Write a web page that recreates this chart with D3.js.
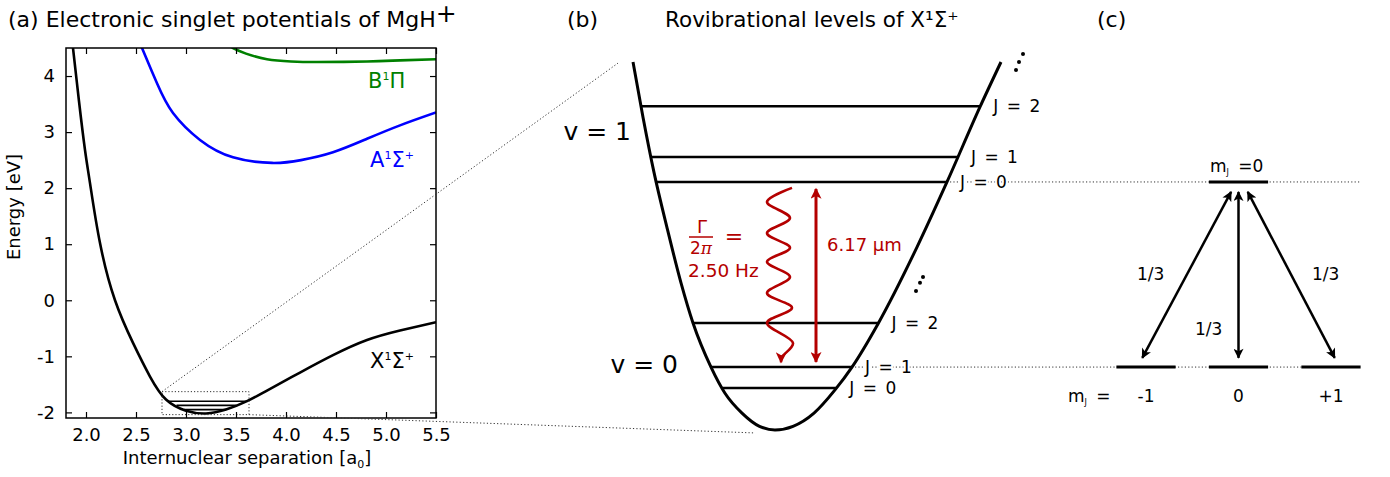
<!DOCTYPE html>
<html>
<head>
<meta charset="utf-8">
<script src="https://cdn.jsdelivr.net/npm/d3@7"></script>
<style>
body { margin: 0; background: #fff; }
svg { font-family: "DejaVu Sans", Verdana, sans-serif; }
</style>
</head>
<body>
<svg width="1390" height="477"></svg>
<script>
// ---- panel (a): potential curves, r in a0, E in eV
var xStateR = [1.80, 1.87, 1.93, 1.99, 2.04, 2.14, 2.29, 2.47, 2.64, 2.80, 3.00, 3.20, 3.40, 3.61, 3.81, 4.14, 4.47, 4.81, 5.14, 5.50];
var xStateE = [5.55, 4.50, 3.55, 2.68, 2.09, 1.02, 0.00, -0.76, -1.36, -1.77, -1.97, -2.02, -1.95, -1.80, -1.61, -1.29, -0.98, -0.71, -0.54, -0.39];
var aStateR = [2.50, 2.56, 2.71, 2.87, 3.14, 3.47, 3.86, 4.15, 4.47, 4.81, 5.14, 5.50];
var aStateE = [4.75, 4.50, 3.87, 3.34, 2.86, 2.55, 2.45, 2.50, 2.64, 2.88, 3.12, 3.35];
var bStateR = [3.35, 3.47, 3.60, 3.81, 4.05, 4.31, 4.81, 5.14, 5.50];
var bStateE = [4.62, 4.50, 4.40, 4.30, 4.26, 4.25, 4.26, 4.28, 4.30];
var xLevels = [-1.80, -1.875, -1.95];
var xTicks = [2.0, 2.5, 3.0, 3.5, 4.0, 4.5, 5.0, 5.5];
var yTicks = [-2, -1, 0, 1, 2, 3, 4];
var zoomR = [2.76, 3.63];
var zoomE = [-2.04, -1.63];

// ---- panel (b): well in arbitrary units, energy in % of shown depth
var wellX = [-1.42, -1.32, -1.21, -1.08, -0.94, -0.82, -0.64, -0.50, -0.33, -0.155, 0, 0.18, 0.39, 0.60, 0.77, 1.035, 1.42, 1.72, 2.05, 2.26];
var wellE = [100, 85, 70, 55, 40, 29.1, 17.1, 10, 4.6, 1, 0, 1, 4.6, 10.9, 17.1, 29.1, 49.7, 67.4, 87.8, 100];
var v0Levels = [11.4, 17.1, 29.1];
var v1Levels = [67.4, 74.2, 88.0];
var jNames = ["J = 0", "J = 1", "J = 2"];
var waveX = [0.17, -0.08, 0.15, -0.08, 0.15, -0.08, 0.15, -0.08, 0.17, -0.08, 0.18, 0.07, 0.06];
var waveE = [65.8, 62.0, 57.6, 53.5, 49.5, 45.7, 41.6, 37.2, 33.2, 29.1, 23.6, 19.8, 18.4];
var laserX = 0.41;
var laserE = [65.5, 18.5];
var dotsHigh = [[2.48, 102.2], [2.44, 100], [2.41, 97.8]];
var dotsLow = [[1.48, 41.6], [1.45, 40], [1.41, 37.8]];
var zoomTop = [-1.57, 99.7];
var zoomBottom = [-0.2, -0.8];

// ---- panel (c): m_J sublevels
var mjValues = [-1, 0, 1];
var mjNames = ["-1", "0", "+1"];
var mjTop = [-0.08, 0, 0.1];
var mjBot = [-1.04, 0, 1.04];
var ratios = ["1/3", "1/3", "1/3"];

var red = "#b40000";
var svg = d3.select("svg");
svg.append("rect").attr("width", 1390).attr("height", 477).attr("fill", "#fff");
var defs = svg.append("defs");
defs.append("clipPath").attr("id", "clipA").append("rect")
    .attr("x", 66).attr("y", 48).attr("width", 370).attr("height", 370);
function head(id, color, w, h) {
    defs.append("marker").attr("id", id)
        .attr("viewBox", "0 0 10 10").attr("refX", 9).attr("refY", 5)
        .attr("markerWidth", w).attr("markerHeight", h)
        .attr("markerUnits", "userSpaceOnUse").attr("orient", "auto-start-reverse")
        .append("path").attr("d", "M0,0L10,5L0,10L2.5,5z").attr("fill", color);
}
head("redHead", red, 12, 11);
head("blackHead", "#000", 11, 10);

function zip(a, b) { return a.map(function (v, i) { return [v, b[i]]; }); }
// crossing of a U shaped curve with a level, side -1 = left branch, 1 = right
function crossAt(pts, e, side) {
    var iMin = d3.minIndex(pts, function (d) { return d[1]; });
    var br = side < 0 ? pts.slice(0, iMin + 1) : pts.slice(iMin);
    for (var i = 0; i < br.length - 1; i++) {
        var a = br[i], b = br[i + 1];
        if ((a[1] - e) * (b[1] - e) <= 0) {
            var t = (e - a[1]) / (b[1] - a[1]);
            return a[0] + t * (b[0] - a[0]);
        }
    }
}

// =============== panel (a)
var x = d3.scaleLinear().domain([1.8, 5.5]).range([66, 436]);
var y = d3.scaleLinear().domain([-2.1, 4.5]).range([418, 48]);

var ta = svg.append("text").attr("x", 8).attr("y", 27).attr("font-size", 22);
ta.append("tspan").text("(a)  Electronic singlet potentials of MgH");
ta.append("tspan").attr("font-size", 25).attr("dy", -5).text("+");

var ga = svg.append("g");
var lineA = d3.line().x(function (d) { return x(d[0]); }).y(function (d) { return y(d[1]); })
    .curve(d3.curveNatural);
var pots = [[zip(xStateR, xStateE), "#000"], [zip(aStateR, aStateE), "#0000ff"], [zip(bStateR, bStateE), "#008000"]];
var curves = ga.append("g").attr("clip-path", "url(#clipA)");
curves.selectAll("path").data(pots).enter().append("path")
    .attr("d", function (d) { return lineA(d[0]); })
    .attr("fill", "none").attr("stroke", function (d) { return d[1]; }).attr("stroke-width", 2.6);

var xPts = zip(xStateR, xStateE);
ga.selectAll(".lev").data(xLevels).enter().append("line")
    .attr("x1", function (d) { return x(crossAt(xPts, d, -1)); })
    .attr("x2", function (d) { return x(crossAt(xPts, d, 1)); })
    .attr("y1", function (d) { return y(d); }).attr("y2", function (d) { return y(d); })
    .attr("stroke", "#000").attr("stroke-width", 1.6);

ga.append("rect").attr("x", x(zoomR[0])).attr("y", y(zoomE[1]))
    .attr("width", x(zoomR[1]) - x(zoomR[0])).attr("height", y(zoomE[0]) - y(zoomE[1]))
    .attr("fill", "none").attr("stroke", "#333").attr("stroke-width", 1).attr("stroke-dasharray", "1.2,2");

// axes with inward ticks on all sides
function clean(g) { g.select(".domain").remove(); g.selectAll("line").attr("stroke-width", 1.2); }
ga.append("g").attr("transform", "translate(0,418)")
    .call(d3.axisBottom(x).tickValues(xTicks).tickSizeInner(-6).tickSizeOuter(0).tickPadding(10).tickFormat(d3.format(".1f")))
    .call(clean);
ga.append("g").attr("transform", "translate(0,48)")
    .call(d3.axisTop(x).tickValues(xTicks).tickSizeInner(-6).tickSizeOuter(0).tickFormat(""))
    .call(clean);
ga.append("g").attr("transform", "translate(66,0)")
    .call(d3.axisLeft(y).tickValues(yTicks).tickSizeInner(-6).tickSizeOuter(0).tickPadding(11)
        .tickFormat(function (d) { return String(d); }))
    .call(clean);
ga.append("g").attr("transform", "translate(436,0)")
    .call(d3.axisRight(y).tickValues(yTicks).tickSizeInner(-6).tickSizeOuter(0).tickFormat(""))
    .call(clean);
ga.selectAll(".tick text").attr("font-size", 18).attr("font-family", "DejaVu Sans").attr("fill", "#000");
ga.append("rect").attr("x", 66).attr("y", 48).attr("width", 370).attr("height", 370)
    .attr("fill", "none").attr("stroke", "#000").attr("stroke-width", 1.5);

svg.append("text").attr("transform", "translate(20,207) rotate(-90)").attr("text-anchor", "middle")
    .attr("font-size", 18).text("Energy [eV]");
var xl = svg.append("text").attr("x", 247).attr("y", 464).attr("text-anchor", "middle").attr("font-size", 18);
xl.append("tspan").text("Internuclear separation [a");
xl.append("tspan").attr("font-size", 11).attr("baseline-shift", -4).text("0");
xl.append("tspan").text("]");

function stateLabel(r, e, main, sup, color) {
    var t = svg.append("text").attr("x", x(r)).attr("y", y(e)).attr("font-size", 21).attr("fill", color);
    t.append("tspan").text(main);
    t.append("tspan").attr("font-size", 11).attr("baseline-shift", 8).text("1");
    t.append("tspan").text(sup[0]);
    if (sup.length > 1) t.append("tspan").attr("font-size", 11).attr("baseline-shift", 8).text(sup[1]);
}
stateLabel(4.82, 3.79, "B", ["Π"], "#008000");
stateLabel(4.84, 2.38, "A", ["Σ", "+"], "#0000ff");
stateLabel(4.84, -1.21, "X", ["Σ", "+"], "#000");

// =============== panel (b)
var xB = d3.scaleLinear().domain([-1.5, 2.5]).range([625, 1025]);
var yB = d3.scaleLinear().domain([0, 100]).range([430, 62]);
var wellPts = zip(wellX, wellE);

svg.append("text").attr("x", 567).attr("y", 27).attr("font-size", 22).text("(b)");
svg.append("text").attr("x", 665).attr("y", 27).attr("font-size", 21.5).text("Rovibrational levels of X¹Σ⁺");

// dotted zoom guides from (a) to (b)
var dots = "1.2,2.2";
svg.append("line").attr("x1", x(zoomR[0])).attr("y1", y(zoomE[1])).attr("x2", xB(zoomTop[0])).attr("y2", yB(zoomTop[1]))
    .attr("stroke", "#333").attr("stroke-width", 1).attr("stroke-dasharray", dots);
svg.append("line").attr("x1", x(zoomR[1])).attr("y1", y(zoomE[0])).attr("x2", xB(zoomBottom[0])).attr("y2", yB(zoomBottom[1]))
    .attr("stroke", "#333").attr("stroke-width", 1).attr("stroke-dasharray", dots);

// dotted lines to panel (c)
var xC = d3.scaleLinear().domain([-1, 1]).range([1146, 1331]);
var halfW = 0.32;
[v1Levels[0], v0Levels[1]].forEach(function (e) {
    svg.append("line").attr("x1", xB(crossAt(wellPts, e, 1)) + 3).attr("x2", xC(1 + halfW))
        .attr("y1", yB(e)).attr("y2", yB(e))
        .attr("stroke", "#333").attr("stroke-width", 1).attr("stroke-dasharray", dots);
});

var lineB = d3.line().x(function (d) { return xB(d[0]); }).y(function (d) { return yB(d[1]); })
    .curve(d3.curveMonotoneX);
svg.append("path").attr("d", lineB(wellPts)).attr("fill", "none").attr("stroke", "#000").attr("stroke-width", 3);

[v0Levels, v1Levels].forEach(function (levels) {
    var g = svg.append("g");
    g.selectAll("line").data(levels).enter().append("line")
        .attr("x1", function (d) { return xB(crossAt(wellPts, d, -1)); })
        .attr("x2", function (d) { return xB(crossAt(wellPts, d, 1)); })
        .attr("y1", function (d) { return yB(d); }).attr("y2", function (d) { return yB(d); })
        .attr("stroke", "#000").attr("stroke-width", 2.5);
    g.selectAll("text").data(levels).enter().append("text")
        .attr("x", function (d) { return xB(crossAt(wellPts, d, 1)) + 13; })
        .attr("y", function (d) { return yB(d) + 6; })
        .attr("font-size", 17).attr("word-spacing", 3)
        .attr("stroke", "#fff").attr("stroke-width", 4).attr("paint-order", "stroke")
        .text(function (d, i) { return jNames[i]; });
});

svg.append("text").attr("x", xB(-1.44)).attr("y", yB(78.8)).attr("text-anchor", "end").attr("font-size", 25).text("v = 1");
svg.append("text").attr("x", xB(-0.97)).attr("y", yB(15.5)).attr("text-anchor", "end").attr("font-size", 25).text("v = 0");

[dotsHigh, dotsLow].forEach(function (set) {
    svg.append("g").selectAll("circle").data(set).enter().append("circle")
        .attr("cx", function (d) { return xB(d[0]); }).attr("cy", function (d) { return yB(d[1]); })
        .attr("r", 2).attr("fill", "#000");
});

// decay wave and laser arrow
var waveLine = d3.line().x(function (d) { return xB(d[0]); }).y(function (d) { return yB(d[1]); })
    .curve(d3.curveCatmullRom);
svg.append("path").attr("d", waveLine(zip(waveX, waveE))).attr("fill", "none")
    .attr("stroke", red).attr("stroke-width", 2.6).attr("marker-end", "url(#redHead)");
svg.append("line").attr("x1", xB(laserX)).attr("x2", xB(laserX)).attr("y1", yB(laserE[0])).attr("y2", yB(laserE[1]))
    .attr("stroke", red).attr("stroke-width", 3)
    .attr("marker-start", "url(#redHead)").attr("marker-end", "url(#redHead)");
svg.append("text").attr("x", 827).attr("y", 251).attr("font-size", 18).attr("fill", red).text("6.17 μm");
svg.append("text").attr("x", 702).attr("y", 233).attr("text-anchor", "middle").attr("font-size", 18).attr("fill", red).text("Γ");
svg.append("line").attr("x1", 689).attr("x2", 713).attr("y1", 237).attr("y2", 237).attr("stroke", red).attr("stroke-width", 1.5);
svg.append("text").attr("x", 701).attr("y", 254).attr("text-anchor", "middle").attr("font-size", 17).attr("fill", red)
    .text("2").append("tspan").attr("font-family", "DejaVu Serif").attr("font-style", "italic").text("π");
svg.append("text").attr("x", 734).attr("y", 244).attr("text-anchor", "middle").attr("font-size", 22).attr("fill", red).text("=");
svg.append("text").attr("x", 688).attr("y", 277).attr("font-size", 18.5).attr("fill", red).text("2.50 Hz");

// =============== panel (c)
svg.append("text").attr("x", 1097).attr("y", 27).attr("font-size", 22).text("(c)");
var gc = svg.append("g");
gc.selectAll(".low").data(mjValues).enter().append("line")
    .attr("x1", function (d) { return xC(d - halfW); }).attr("x2", function (d) { return xC(d + halfW); })
    .attr("y1", yB(v0Levels[1])).attr("y2", yB(v0Levels[1]))
    .attr("stroke", "#000").attr("stroke-width", 3);
gc.append("line").attr("x1", xC(-halfW)).attr("x2", xC(halfW))
    .attr("y1", yB(v1Levels[0])).attr("y2", yB(v1Levels[0]))
    .attr("stroke", "#000").attr("stroke-width", 3);
gc.selectAll(".arr").data(mjValues).enter().append("line")
    .attr("x1", function (d, i) { return xC(mjTop[i]); }).attr("y1", yB(64.7))
    .attr("x2", function (d, i) { return xC(mjBot[i]); }).attr("y2", yB(19.6))
    .attr("stroke", "#000").attr("stroke-width", 2.5)
    .attr("marker-start", "url(#blackHead)").attr("marker-end", "url(#blackHead)");
var ratioPos = [[1137, 280], [1195, 335], [1312, 280]];
gc.selectAll(".rt").data(ratios).enter().append("text")
    .attr("x", function (d, i) { return ratioPos[i][0]; }).attr("y", function (d, i) { return ratioPos[i][1]; })
    .attr("font-size", 17).text(function (d) { return d; });
gc.selectAll(".mj").data(mjNames).enter().append("text")
    .attr("x", function (d, i) { return xC(mjValues[i]); }).attr("y", 402)
    .attr("text-anchor", "middle").attr("font-size", 17).text(function (d) { return d; });
var m1 = gc.append("text").attr("x", 1068).attr("y", 402).attr("font-size", 17).attr("word-spacing", 4);
m1.append("tspan").text("m");
m1.append("tspan").attr("font-size", 8).attr("baseline-shift", -3).text("J");
m1.append("tspan").text(" =");
var m2 = gc.append("text").attr("x", 1210).attr("y", 172).attr("font-size", 17).attr("word-spacing", 4);
m2.append("tspan").text("m");
m2.append("tspan").attr("font-size", 8).attr("baseline-shift", -3).text("J");
m2.append("tspan").text(" =0");
</script>
</body>
</html>
